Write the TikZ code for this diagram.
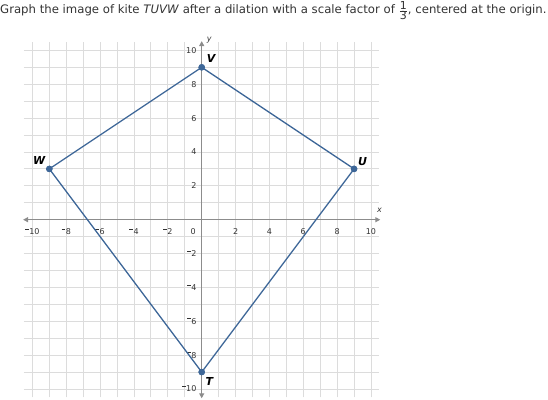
\documentclass[tikz,border=0pt]{standalone}
\usepackage{fontspec}
\setmainfont{DejaVu Sans}
\usetikzlibrary{arrows.meta}
\definecolor{kite}{HTML}{3E6798}
\definecolor{gridc}{HTML}{DCDCDC}
\definecolor{axisc}{HTML}{8C8C8C}
\definecolor{labc}{HTML}{333333}
\newcommand{\smin}{\raisebox{5pt}{\rule{3.6pt}{0.75pt}}\kern0.6pt}
\tikzset{
  gridline/.style={draw=gridc, line width=0.9pt},
  axisline/.style={draw=axisc, line width=1.2pt, -{Triangle[length=5pt,width=5pt]}},
  kiteline/.style={draw=kite, line width=1.3pt},
  vdot/.style={circle, fill=kite, inner sep=0pt, minimum size=6.5pt},
  vlabel/.style={font=\fontsize{11}{12}\selectfont\bfseries\itshape, text=black, inner sep=0pt},
  ticklab/.style={font=\fontsize{8}{9}\selectfont, text=labc, inner sep=0pt},
  axlab/.style={font=\fontsize{8}{9}\selectfont\itshape, text=labc, inner sep=0pt}
}
\begin{document}
\begin{tikzpicture}[x=16.93pt, y=16.93pt]
\useasboundingbox (-11.914,-10.650) rectangle (20.455,12.977);
% grid
\foreach \i in {-10,...,10} {
  \draw[gridline] (\i,-10.5) -- (\i,10.5);
  \draw[gridline] (-10.5,\i) -- (10.5,\i);
}
% axes
\coordinate (xl) at (-10.55,0);
\coordinate (xr) at (10.55,0);
\coordinate (yb) at (0,-10.55);
\coordinate (yt) at (0,10.55);
\draw[axisline] (0,0) -- (xr);
\draw[axisline] (0,0) -- (xl);
\draw[axisline] (0,0) -- (yt);
\draw[axisline] (0,0) -- (yb);
\node[axlab] (xlab) at (10.5,0.55) {x};
\node[axlab] (ylab) at (0.45,10.6) {y};
% tick labels
\foreach \v in {2,4,6,8,10} {
  \node[ticklab] at (\v,-0.7) {\v};
  \node[ticklab] at (-\v,-0.7) {\smin\v};
  \node[ticklab, anchor=east] at (-0.3,\v) {\v};
  \node[ticklab, anchor=east] at (-0.3,-\v) {\smin\v};
}
\node[ticklab] at (-0.5,-0.7) {0};
% kite
\node[vdot] (T) at (0,-9) {};
\node[vdot] (U) at (9,3) {};
\node[vdot] (V) at (0,9) {};
\node[vdot] (W) at (-9,3) {};
\draw[kiteline] (T.center) -- (U.center) -- (V.center) -- (W.center) -- cycle;
\node[vdot] at (T) {};
\node[vdot] at (U) {};
\node[vdot] at (V) {};
\node[vdot] at (W) {};
\node[vlabel] (Tl) at (0.45,-9.55) {T};
\node[vlabel] (Ul) at (9.5,3.45) {U};
\node[vlabel] (Vl) at (0.55,9.5) {V};
\node[vlabel] (Wl) at (-9.6,3.5) {W};
% title
\node[anchor=base west, inner sep=0pt, font=\fontsize{11.7}{13}\selectfont, text=labc] (title) at (-11.914,12.15)
  {Graph the image of kite \textit{TUVW} after a dilation with a scale factor of $\frac{\hbox{\fontsize{11}{12}\selectfont 1}}{\hbox{\fontsize{11}{12}\selectfont 3}}$, centered at the origin.};
\end{tikzpicture}
\end{document}
